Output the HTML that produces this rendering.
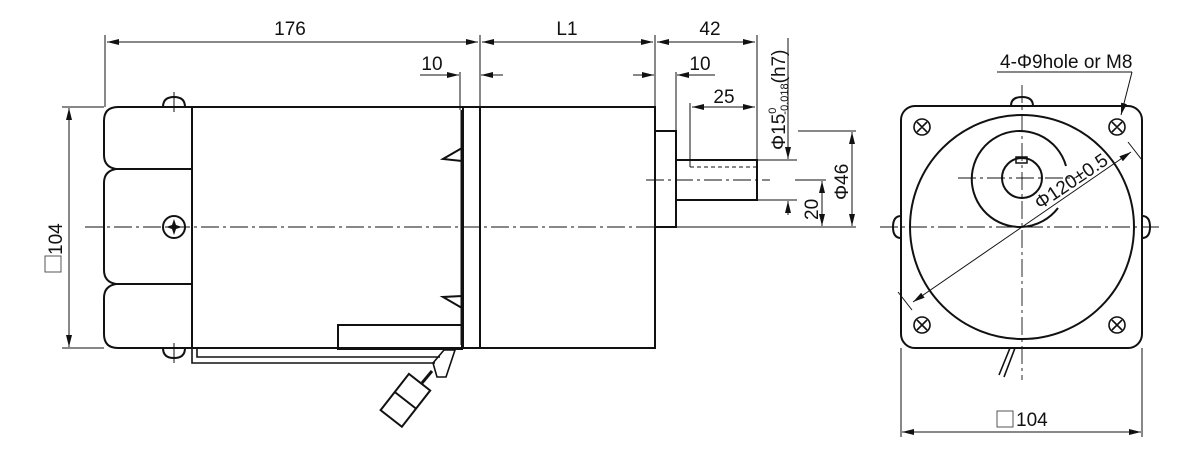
<!DOCTYPE html>
<html><head><meta charset="utf-8"><style>
html,body{margin:0;padding:0;background:#fff;}
svg{display:block;}
text{font-family:"Liberation Sans Narrow","Liberation Sans",sans-serif;fill:#111;}
</style></head><body>
<svg width="1200" height="453" viewBox="0 0 1200 453" xmlns="http://www.w3.org/2000/svg">
<defs>
<marker id="a" viewBox="0 0 12 6" refX="12" refY="3" markerWidth="12" markerHeight="6" orient="auto-start-reverse" markerUnits="userSpaceOnUse"><path d="M0,0 L12,3 L0,6 z" fill="#111"/></marker>
</defs>
<g stroke="#111" fill="none">
<g stroke-width="1">
<line x1="105" y1="35" x2="105" y2="107"/>
<line x1="480" y1="35" x2="480" y2="107"/>
<line x1="655" y1="35" x2="655" y2="107"/>
<line x1="757" y1="35" x2="757" y2="160"/>
<line x1="460" y1="72" x2="460" y2="110"/>
<line x1="676" y1="72" x2="676" y2="131"/>
<line x1="690" y1="103" x2="690" y2="160"/>
<line x1="107" y1="42" x2="478" y2="42" marker-start="url(#a)" marker-end="url(#a)"/>
<line x1="482" y1="42" x2="653" y2="42" marker-start="url(#a)" marker-end="url(#a)"/>
<line x1="657" y1="42" x2="755" y2="42" marker-start="url(#a)" marker-end="url(#a)"/>
<line x1="420" y1="75" x2="459" y2="75" marker-end="url(#a)"/>
<line x1="503" y1="75" x2="481" y2="75" marker-end="url(#a)"/>
<line x1="633" y1="75" x2="654" y2="75" marker-end="url(#a)"/>
<line x1="715" y1="75" x2="677" y2="75" marker-end="url(#a)"/>
<line x1="692" y1="107" x2="755" y2="107" marker-start="url(#a)" marker-end="url(#a)"/>
<line x1="757" y1="160" x2="797" y2="160"/>
<line x1="757" y1="200" x2="797" y2="200"/>
<line x1="788" y1="38" x2="788" y2="159" marker-end="url(#a)"/>
<line x1="788" y1="215" x2="788" y2="201" marker-end="url(#a)"/>
<line x1="798" y1="131" x2="856" y2="131"/>
<line x1="676" y1="227" x2="856" y2="227"/>
<line x1="852" y1="132" x2="852" y2="226" marker-start="url(#a)" marker-end="url(#a)"/>
<line x1="822" y1="181" x2="822" y2="226" marker-start="url(#a)" marker-end="url(#a)"/>
<line x1="795" y1="180" x2="826" y2="180"/>
<line x1="62" y1="107" x2="104" y2="107"/>
<line x1="62" y1="348" x2="104" y2="348"/>
<line x1="69" y1="108" x2="69" y2="347" marker-start="url(#a)" marker-end="url(#a)"/>
<line x1="901" y1="348" x2="901" y2="437"/>
<line x1="1142" y1="348" x2="1142" y2="437"/>
<line x1="902" y1="432" x2="1141" y2="432" marker-start="url(#a)" marker-end="url(#a)"/>
<line x1="997" y1="72" x2="1132" y2="72"/>
<line x1="1132" y1="72" x2="1121" y2="115" marker-end="url(#a)"/>
<line x1="1022" y1="227" x2="1131" y2="152" marker-end="url(#a)"/>
<line x1="1022" y1="227" x2="913" y2="302" marker-end="url(#a)"/>
<line x1="1128" y1="142" x2="1142" y2="160"/>
<line x1="898" y1="292" x2="912" y2="310"/>
</g>
<g stroke-width="0.9" stroke-dasharray="18,4,3,4">
<line x1="85" y1="227" x2="660" y2="227"/>
<line x1="646" y1="180" x2="770" y2="180"/>
<line x1="880" y1="227" x2="1160" y2="227"/>
<line x1="1022" y1="85" x2="1022" y2="380"/>
<line x1="958" y1="178" x2="1075" y2="178"/>
</g>
<g stroke-width="2">
<path d="M118,107 H463 V348 H118 Q104,348 104,334 V298 Q104,286 116,284 Q104,282 104,270 V183 Q104,171 116,169 Q104,167 104,155 V121 Q104,107 118,107 Z"/>
<line x1="116" y1="169" x2="192" y2="169"/>
<line x1="116" y1="284" x2="192" y2="284"/>
<line x1="192" y1="107" x2="192" y2="348"/>
<path d="M163,107 Q163,97 174,97 Q185,97 185,107"/>
<path d="M163,348 Q163,358 174,358 Q185,358 185,348"/>
<circle cx="174" cy="227" r="11"/>
<rect x="463" y="107" width="17" height="241"/>
<line x1="462" y1="110" x2="462" y2="345" stroke-width="3"/>
<path d="M462,148 L443,159 L462,161"/>
<path d="M462,296 L443,297 L462,308"/>
<rect x="338" y="325" width="124" height="24"/>
<rect x="480" y="107" width="175" height="241"/>
<rect x="655" y="131" width="21" height="96"/>
<rect x="676" y="160" width="81" height="40"/>
<g transform="rotate(38 405 400)"><rect x="392" y="377" width="27" height="46"/><line x1="392" y1="400" x2="419" y2="400"/></g>
<path d="M433,363 L444,350 L455,350 L446,377 L437,377 Z" stroke-width="1.6"/>
<line x1="422" y1="383" x2="432" y2="371" stroke-width="3"/>
</g>
<g stroke-width="1.6">
<line x1="174" y1="92" x2="174" y2="112" stroke-width="1"/><line x1="174" y1="343" x2="174" y2="363" stroke-width="1"/>
<path d="M192,349 V363 H435"/><path d="M197,349 V357 H440"/>
<line x1="690" y1="160" x2="690" y2="167" stroke-width="1"/>
<line x1="690" y1="167" x2="757" y2="167" stroke-dasharray="4,3" stroke-width="1"/>
</g>
<path d="M174,219 L176,225 L182,227 L176,229 L174,235 L172,229 L166,227 L172,225 Z" fill="#111" stroke="none"/>
<g stroke-width="2">
<rect x="901" y="106" width="241" height="242" rx="14"/>
<circle cx="1022" cy="227" r="112"/>
<path d="M1066,166 A48,48 0 1 0 1058,208" />
<circle cx="1022" cy="178" r="20"/>
<rect x="1016" y="157" width="11" height="6" stroke-width="1.5"/>
<path d="M1011,106 Q1011,97 1022,97 Q1033,97 1033,106"/>
<path d="M901,216 Q893,216 893,227 Q893,238 901,238"/>
<path d="M1142,216 Q1150,216 1150,227 Q1150,238 1142,238"/>
<g stroke-width="1.6">
<circle cx="922" cy="127" r="8"/><circle cx="1117" cy="127" r="8"/>
<circle cx="922" cy="325" r="8"/><circle cx="1117" cy="325" r="8"/>
<path d="M917,122 L927,132 M927,122 L917,132 M1112,122 L1122,132 M1122,122 L1112,132 M917,320 L927,330 M927,320 L917,330 M1112,320 L1122,330 M1122,320 L1112,330"/>
</g>
<path d="M1010,348 L999,375 M1015,348 L1004,377" stroke-width="1.6"/>
</g>
</g>
<g font-size="19">
<text x="290" y="35" text-anchor="middle">176</text>
<text x="567" y="35" text-anchor="middle">L1</text>
<text x="710" y="35" text-anchor="middle">42</text>
<text x="432" y="70" text-anchor="middle">10</text>
<text x="700" y="70" text-anchor="middle">10</text>
<text x="724" y="103" text-anchor="middle">25</text>
<text transform="translate(785,150) rotate(-90)">Φ15<tspan font-size="11" dy="-9">0</tspan><tspan font-size="11" dx="-7" dy="12">-0.018</tspan><tspan dy="-3">(h7)</tspan></text>
<text transform="translate(848,200) rotate(-90)">Φ46</text>
<text transform="translate(818,220) rotate(-90)">20</text>
<text transform="translate(62,255) rotate(-90)">104</text>
<text x="1000" y="68">4-Φ9hole or M8</text>
<text x="1016" y="426">104</text>
<text transform="translate(1040,210) rotate(-34)">Φ120±0.5</text>
</g>
<rect x="45" y="256" width="16" height="16" fill="none" stroke="#555" stroke-width="1"/>
<rect x="997" y="411" width="16" height="16" fill="none" stroke="#555" stroke-width="1"/>
</svg>
</body></html>
